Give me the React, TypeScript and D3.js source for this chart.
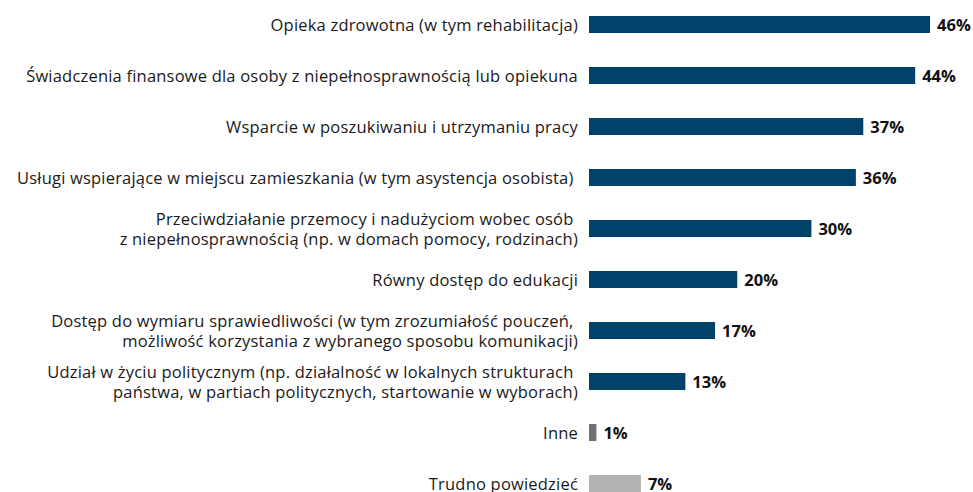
import React from 'react';
import * as d3 from 'd3';

// categories (each entry is the list of text lines of a label)
const categories: string[][] = [
  ['Opieka zdrowotna (w tym rehabilitacja)'],
  ['Świadczenia finansowe dla osoby z niepełnosprawnością lub opiekuna'],
  ['Wsparcie w poszukiwaniu i utrzymaniu pracy'],
  ['Usługi wspierające w miejscu zamieszkania (w tym asystencja osobista) '],
  ['Przeciwdziałanie przemocy i nadużyciom wobec osób ', 'z niepełnosprawnością (np. w domach pomocy, rodzinach)'],
  ['Równy dostęp do edukacji'],
  ['Dostęp do wymiaru sprawiedliwości (w tym zrozumiałość pouczeń, ', 'możliwość korzystania z wybranego sposobu komunikacji)'],
  ['Udział w życiu politycznym (np. działalność w lokalnych strukturach ', 'państwa, w partiach politycznych, startowanie w wyborach)'],
  ['Inne'],
  ['Trudno powiedzieć'],
];
const values = [46, 44, 37, 36, 30, 20, 17, 13, 1, 7];
const barColors = ['#00426a', '#00426a', '#00426a', '#00426a', '#00426a', '#00426a', '#00426a', '#00426a', '#707070', '#b3b3b3'];

const WIDTH = 973;
const HEIGHT = 492;
const BAR_X = 589;
const LABEL_X = 578;
const FONT_SIZE = 16.5;
const LINE_H = 20;

const App = () => {
  const ids = categories.map((_, i) => String(i));
  // step 51px, bars 17px tall
  const y = d3.scaleBand().domain(ids).range([16, 492]).paddingInner(2 / 3).paddingOuter(0);
  const x = d3.scaleLinear().domain([0, 46]).range([BAR_X, 930]);

  return (
    <svg width={WIDTH} height={HEIGHT} style={{ position: 'absolute', left: 0, top: 0 }}>
      <rect width={WIDTH} height={HEIGHT} fill="#fff" />
      {values.map((v, i) => {
        const by = y(String(i)) as number;
        const cy = by + y.bandwidth() / 2;
        const lines = categories[i];
        const firstY = cy - ((lines.length - 1) * LINE_H) / 2 + 1;
        return (
          <g key={i}>
            <rect x={x(0)} y={by} width={x(v) - x(0)} height={y.bandwidth()} fill={barColors[i]} />
            <text
              textAnchor="end"
              fontFamily="'Open Sans', sans-serif"
              fontSize={FONT_SIZE}
              letterSpacing={0.2}
              fill="#1a1a1a"
              style={{ whiteSpace: 'pre' }}
            >
              {lines.map((l, j) => (
                <tspan key={j} x={LABEL_X} y={firstY + j * LINE_H} dy="0.35em">
                  {l}
                </tspan>
              ))}
            </text>
            <text
              x={x(v) + 7}
              y={cy + 1}
              dy="0.35em"
              fontFamily="'Open Sans', sans-serif"
              fontWeight={700}
              fontSize={16.5}
              fill="#111"
            >
              {v}%
            </text>
          </g>
        );
      })}
    </svg>
  );
};

export default App;
